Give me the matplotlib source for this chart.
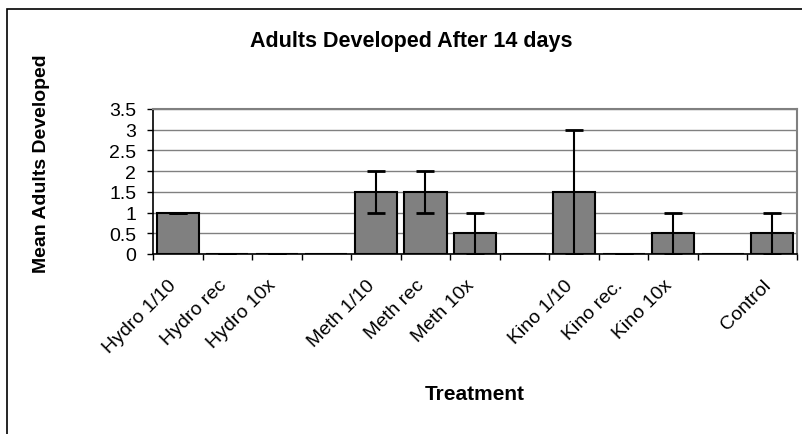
import matplotlib
matplotlib.use("Agg")
import matplotlib.pyplot as plt
import numpy as np
from matplotlib.patches import Rectangle

plt.rcParams["font.family"] = ["Liberation Sans", "DejaVu Sans"]

# data (blank strings are the empty gap slots between groups)
categories = ["Hydro 1/10", "Hydro rec", "Hydro 10x", "",
              "Meth 1/10", "Meth rec", "Meth 10x", "",
              "Kino 1/10", "Kino rec.", "Kino 10x", "",
              "Control"]
means = [1.0, 0.0, 0.0, np.nan,
         1.5, 1.5, 0.5, np.nan,
         1.5, 0.0, 0.5, np.nan,
         0.5]
errors = [0.0, 0.0, 0.0, np.nan,
          0.5, 0.5, 0.5, np.nan,
          1.5, 0.0, 0.5, np.nan,
          0.5]
y_ticks = [0, 0.5, 1, 1.5, 2, 2.5, 3, 3.5]

fig = plt.figure(figsize=(8.02, 4.35), dpi=100)
ax = fig.add_axes([153/802, 1 - 255/435, (797 - 153)/802, (255 - 110)/435])

x = np.arange(len(categories))
vals = np.nan_to_num(means)
ax.bar(x, vals, width=0.85, color="#808080", edgecolor="black", linewidth=1.5, zorder=3)
mask = ~np.isnan(np.array(means))
ax.errorbar(x[mask], np.array(means)[mask], yerr=np.array(errors)[mask],
            fmt="none", ecolor="black", elinewidth=1.5, capsize=6.5, capthick=2, zorder=4)

ax.set_xlim(-0.5, len(categories) - 0.5)
ax.set_ylim(0, 3.5)
ax.set_yticks(y_ticks)
ax.set_yticklabels([f"{t:g}" for t in y_ticks], fontsize=14)
ax.yaxis.grid(True, color="#808080", linewidth=1.0, zorder=0)
ax.set_axisbelow(True)

# category labels: rotated, ending just left of each slot centre
ax.set_xticks(x)
ax.set_xticklabels([])
ax.tick_params(axis="x", length=0)
for i, lab in enumerate(categories):
    ax.annotate(lab, xy=(i, 0), xycoords=("data", "axes fraction"),
                xytext=(-7, -16), textcoords="offset points",
                rotation=45, rotation_mode="anchor", ha="right", va="top",
                fontsize=14)
ax.set_xticks(np.arange(-0.5, len(categories), 1.0), minor=True)
ax.tick_params(axis="x", which="minor", length=4, width=1, direction="out")
ax.tick_params(axis="y", length=4, width=1, direction="out", pad=8)

for side in ["top", "right"]:
    ax.spines[side].set_color("#808080")
    ax.spines[side].set_linewidth(1.5)
for side in ["left", "bottom"]:
    ax.spines[side].set_color("black")
    ax.spines[side].set_linewidth(1.2)

fig.text(411/802, 1 - 41/435, "Adults Developed After 14 days",
         ha="center", va="center", fontsize=15.5, fontweight="bold")
fig.text(42/802, 1 - 164/435, "Mean Adults Developed", rotation=90,
         ha="center", va="center", fontsize=14, fontweight="bold")
fig.text(475/802, 1 - 395/435, "Treatment",
         ha="center", va="center", fontsize=15, fontweight="bold")

# outer chart-area border, clipped on the right and bottom
fig.patches.append(Rectangle((7/802, -0.2), 1.1, 1.2 - 10/435, transform=fig.transFigure,
                             fill=False, edgecolor="black", linewidth=1.2))

fig.savefig("out.png", dpi=100)
